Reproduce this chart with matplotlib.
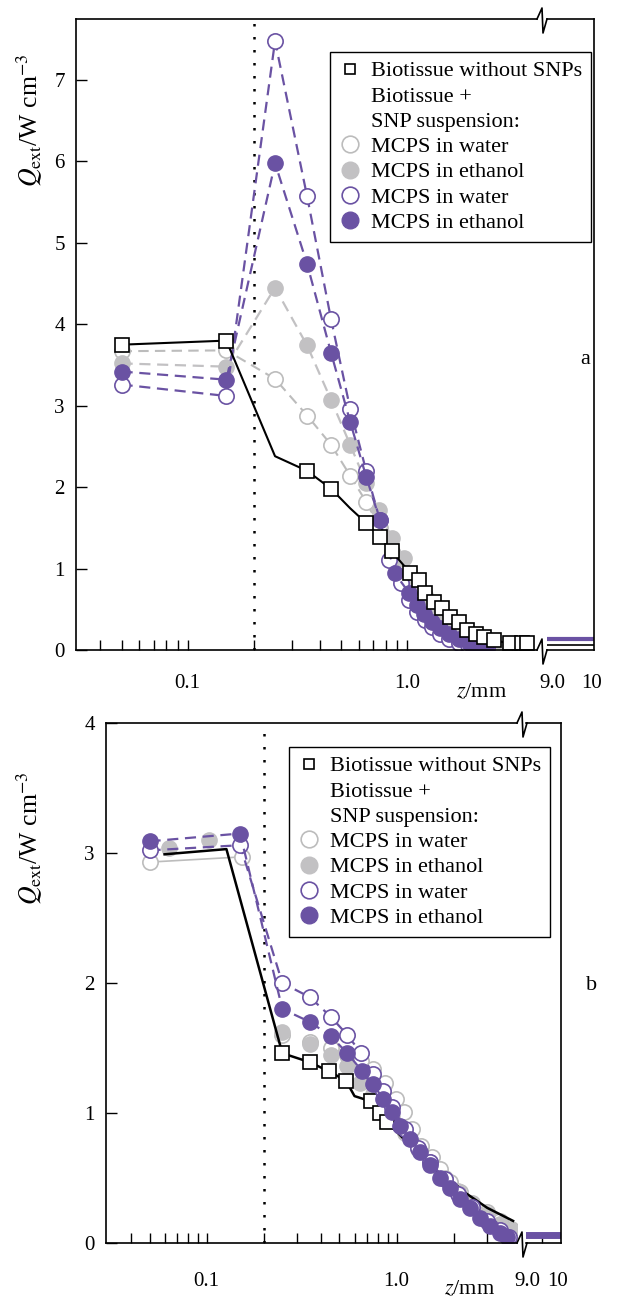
import matplotlib.pyplot as plt
from matplotlib.lines import Line2D
from matplotlib.ticker import FixedLocator, FixedFormatter, NullFormatter

plt.rcParams['font.family'] = ['Liberation Serif', 'DejaVu Serif']
plt.rcParams['mathtext.fontset'] = 'stix'

# ---- panel a: Q_ext (W cm^-3) vs depth z (mm) ----
za_black = [0.05, 0.15, 0.25, 0.35, 0.45, 0.55, 0.65, 0.75, 0.85, 1.03, 1.13, 1.21,
            1.32, 1.44, 1.57, 1.72, 1.88, 2.05, 2.24, 2.48, 2.95, 3.34, 3.52]
qa_black = [3.75, 3.80, 2.38, 2.20, 1.98, 1.74, 1.56, 1.39, 1.21, 0.95, 0.86, 0.70,
            0.59, 0.51, 0.41, 0.34, 0.25, 0.20, 0.16, 0.12, 0.08, 0.08, 0.08]
ma_black = [0, 1, 3, 4, 6, 7, 8, 9, 10, 11, 12, 13, 14, 15, 16, 17, 18, 19, 20, 21, 22]

za_gray_open = [0.05, 0.15, 0.25, 0.35, 0.45, 0.55, 0.65, 0.75, 0.85, 0.95, 1.05, 1.15,
                1.25, 1.35, 1.45, 1.6, 1.8, 2.0, 2.2, 2.4]
qa_gray_open = [3.67, 3.68, 3.33, 2.88, 2.52, 2.14, 1.82, 1.50, 1.20, 0.95, 0.74, 0.58,
                0.45, 0.35, 0.28, 0.20, 0.12, 0.08, 0.05, 0.03]

za_gray_fill = [0.05, 0.15, 0.25, 0.35, 0.45, 0.55, 0.65, 0.74, 0.85, 0.97, 1.1, 1.2,
                1.3, 1.4, 1.5, 1.65, 1.8, 2.0, 2.2, 2.4, 2.6]
qa_gray_fill = [3.52, 3.48, 4.45, 3.74, 3.07, 2.52, 2.05, 1.72, 1.38, 1.13, 0.85, 0.68,
                0.52, 0.42, 0.34, 0.25, 0.18, 0.12, 0.08, 0.05, 0.03]

za_pur_open = [0.05, 0.15, 0.25, 0.35, 0.45, 0.55, 0.65, 0.75, 0.83, 0.94, 1.02, 1.11,
               1.2, 1.3, 1.41, 1.55, 1.72, 1.9, 2.1, 2.3]
qa_pur_open = [3.26, 3.12, 7.48, 5.57, 4.06, 2.96, 2.20, 1.60, 1.10, 0.82, 0.62, 0.47,
               0.37, 0.28, 0.20, 0.14, 0.09, 0.06, 0.04, 0.03]

za_pur_fill = [0.05, 0.15, 0.25, 0.35, 0.45, 0.55, 0.65, 0.75, 0.88, 1.02, 1.11, 1.19,
               1.3, 1.41, 1.55, 1.72, 1.91, 2.12, 2.28]
qa_pur_fill = [3.42, 3.32, 5.98, 4.74, 3.65, 2.80, 2.13, 1.60, 0.94, 0.70, 0.55, 0.44,
               0.34, 0.27, 0.20, 0.13, 0.09, 0.05, 0.04]

z_tail = [8.8, 10.2]
qa_tail_pur = [0.13, 0.13]
qa_tail_black = [0.06, 0.06]

# ---- panel b ----
zb_black = [0.06, 0.127, 0.25, 0.35, 0.44, 0.54, 0.60, 0.73, 0.82, 0.89, 1.2, 1.6,
            2.0, 2.33, 3.0, 4.1]
qb_black = [2.99, 3.03, 1.46, 1.39, 1.32, 1.25, 1.13, 1.09, 1.00, 0.93, 0.74, 0.56,
            0.46, 0.38, 0.27, 0.17]
mb_black = [2, 3, 4, 5, 7, 8, 9]

zb_gray_open = [0.05, 0.153, 0.25, 0.35, 0.45, 0.55, 0.65, 0.75, 0.87, 0.99, 1.09, 1.21,
                1.35, 1.53, 1.69, 1.91, 2.15, 2.5, 3.0, 3.5, 4.0]
qb_gray_open = [2.93, 2.97, 1.60, 1.55, 1.50, 1.45, 1.40, 1.34, 1.23, 1.11, 1.01, 0.88,
                0.75, 0.66, 0.57, 0.47, 0.39, 0.31, 0.24, 0.17, 0.11]

zb_gray_fill = [0.063, 0.103, 0.25, 0.35, 0.45, 0.55, 0.64, 0.75, 0.85, 0.95, 1.1, 1.3,
                1.5, 1.8, 2.1, 2.5, 3.0, 3.5, 4.0]
qb_gray_fill = [3.04, 3.10, 1.62, 1.53, 1.45, 1.36, 1.23, 1.15, 1.05, 0.97, 0.85, 0.72,
                0.62, 0.50, 0.40, 0.30, 0.22, 0.15, 0.10]

zb_pur_open = [0.05, 0.15, 0.25, 0.35, 0.45, 0.55, 0.65, 0.75, 0.85, 0.95, 1.1, 1.3,
               1.5, 1.8, 2.1, 2.5, 3.0, 3.5, 3.9]
qb_pur_open = [3.02, 3.06, 2.00, 1.89, 1.74, 1.60, 1.46, 1.30, 1.17, 1.05, 0.88, 0.73,
               0.62, 0.49, 0.38, 0.28, 0.17, 0.10, 0.05]

zb_pur_fill = [0.05, 0.15, 0.25, 0.35, 0.45, 0.55, 0.66, 0.75, 0.85, 0.94, 1.04, 1.18,
               1.33, 1.5, 1.69, 1.91, 2.15, 2.43, 2.74, 3.09, 3.5, 3.8]
qb_pur_fill = [3.09, 3.15, 1.80, 1.70, 1.59, 1.46, 1.32, 1.22, 1.11, 1.01, 0.90, 0.80,
               0.70, 0.60, 0.50, 0.42, 0.34, 0.27, 0.19, 0.13, 0.08, 0.05]

qb_tail_pur = [0.06, 0.06]

legend_labels = ['Biotissue without SNPs', 'Biotissue +', 'SNP suspension:',
                 'MCPS in water', 'MCPS in ethanol', 'MCPS in water', 'MCPS in ethanol']

PURPLE = '#6a52a3'
GRAY_FILL = '#c2c1c3'
GRAY_EDGE = '#bcbcbc'
W, H = 624, 1299
MS = 11


def box(left, top, right, bottom):
    return [left / W, 1 - bottom / H, (right - left) / W, (bottom - top) / H]


def zigzag(fig, x, y):
    xs = [x, x + 5, x + 6, x + 10]
    ys = [y, y - 11, y + 14, y]
    fig.add_artist(Line2D([v / W for v in xs], [1 - v / H for v in ys],
                          transform=fig.transFigure, color='k', lw=1.2))


def setup_axes(fig, main_box, tail_box, xlim, tail_xlim, ymax, tail_minor, xpad):
    ax = fig.add_axes(box(*main_box))
    tx = fig.add_axes(box(*tail_box))
    ax.set_xscale('log')
    ax.set_xlim(*xlim)
    ax.set_ylim(0, ymax)
    tx.set_xlim(*tail_xlim)
    tx.set_ylim(0, ymax)
    ax.xaxis.set_major_locator(FixedLocator([0.1, 1.0]))
    ax.xaxis.set_major_formatter(FixedFormatter(['0.1', '1.0']))
    ax.xaxis.set_minor_locator(FixedLocator([0.04, 0.05, 0.06, 0.07, 0.08, 0.09, 0.2, 0.3,
                                             0.4, 0.5, 0.6, 0.7, 0.8, 0.9, 2, 3]))
    ax.xaxis.set_minor_formatter(NullFormatter())
    ax.set_yticks(range(0, int(ymax) + 1))
    ax.tick_params(axis='x', which='both', direction='in', length=7, width=1,
                   pad=xpad, labelsize=15)
    ax.tick_params(axis='y', direction='in', length=8, width=1, pad=8, labelsize=15)
    ax.spines['right'].set_visible(False)
    tx.spines['left'].set_visible(False)
    tx.set_xticks([9, 10])
    tx.set_xticklabels(['9.0', '10'])
    tx.set_xticks(tail_minor, minor=True)
    tx.tick_params(axis='x', which='major', direction='in', length=0, pad=xpad, labelsize=15)
    tx.tick_params(axis='x', which='minor', direction='in', length=7, width=1)
    tx.tick_params(axis='y', left=False, labelleft=False)
    for a in (ax, tx):
        for s in a.spines.values():
            s.set_linewidth(1.2)
    ax.axvline(0.2, color='k', ls=(0, (1, 4.2)), lw=1.8, zorder=1)
    return ax, tx


def legend(fig, x, y):
    handles = [
        Line2D([], [], ls='none', marker='s', ms=7, mfc='white', mec='k', mew=1.2),
        Line2D([], [], ls='none'),
        Line2D([], [], ls='none'),
        Line2D([], [], ls='none', marker='o', ms=12, mfc='white', mec=GRAY_EDGE, mew=1.2),
        Line2D([], [], ls='none', marker='o', ms=12, mfc=GRAY_FILL, mec=GRAY_FILL),
        Line2D([], [], ls='none', marker='o', ms=12, mfc='white', mec=PURPLE, mew=1.2),
        Line2D([], [], ls='none', marker='o', ms=12, mfc=PURPLE, mec=PURPLE),
    ]
    leg = fig.legend(handles, legend_labels, loc='upper left', bbox_to_anchor=(x / W, 1 - y / H),
                     fontsize=16, frameon=True, fancybox=False, edgecolor='k', framealpha=1,
                     handlelength=1.0, handletextpad=0.45, borderpad=0.4,
                     labelspacing=0.21, borderaxespad=0)
    leg.get_frame().set_linewidth(1.0)


fig = plt.figure(figsize=(W / 100, H / 100), dpi=100)
dash = (0, (5, 3))
ylabel = r'$Q_{\rm ext}$/W cm$^{-3}$'

# panel a
ax, tx = setup_axes(fig, (76, 19, 537, 650), (547, 19, 594, 650),
                    (0.031, 3.9), (8.85, 10.05), 7.75, [], 17)
ax.plot(za_gray_open, qa_gray_open, ls=dash, color=GRAY_EDGE, lw=1.5, marker='o', ms=MS,
        mfc='white', mec=GRAY_EDGE, mew=1.2)
ax.plot(za_gray_fill, qa_gray_fill, ls=dash, color=GRAY_FILL, lw=1.6, marker='o', ms=MS,
        mfc=GRAY_FILL, mec=GRAY_FILL)
ax.plot(za_pur_open, qa_pur_open, ls=dash, color=PURPLE, lw=1.6, marker='o', ms=MS,
        mfc='white', mec=PURPLE, mew=1.2)
ax.plot(za_pur_fill, qa_pur_fill, ls=dash, color=PURPLE, lw=1.6, marker='o', ms=MS,
        mfc=PURPLE, mec=PURPLE)
ax.plot(za_black, qa_black, color='k', lw=1.5, marker='s', ms=9.5, mfc='white', mec='k',
        mew=1.2, markevery=ma_black)
tx.plot(z_tail, qa_tail_black, color='k', lw=1.2)
tx.plot(z_tail, qa_tail_pur, color=PURPLE, lw=3)
zigzag(fig, 537, 19)
zigzag(fig, 537, 650)
legend(fig, 330, 52)
fig.text(30 / W, 1 - 120 / H, ylabel, rotation=90, ha='center', va='center', fontsize=18.5)
fig.text(482 / W, 1 - 693 / H, r'$z$/mm', ha='center', va='center', fontsize=16)
fig.text(585 / W, 1 - 360 / H, 'a', ha='center', va='center', fontsize=16)

# panel b
bx, btx = setup_axes(fig, (106, 723, 517, 1243), (526, 723, 561, 1243),
                     (0.0295, 4.3), (8.97, 10.1), 4, [9.5], 21)
bx.plot(zb_gray_open[:2], qb_gray_open[:2], color=GRAY_EDGE, lw=1.2)
bx.plot(zb_gray_open, qb_gray_open, ls='none', marker='o', ms=MS,
        mfc='white', mec=GRAY_EDGE, mew=1.2)
bx.plot(zb_gray_fill, qb_gray_fill, ls='none', marker='o', ms=MS,
        mfc=GRAY_FILL, mec=GRAY_FILL)
bx.plot(zb_black, qb_black, color='k', lw=1.8, marker='s', ms=9.5, mfc='white', mec='k',
        mew=1.2, markevery=mb_black)
bx.plot(zb_pur_open, qb_pur_open, ls=dash, color=PURPLE, lw=1.6, marker='o', ms=MS,
        mfc='white', mec=PURPLE, mew=1.2)
bx.plot(zb_pur_fill, qb_pur_fill, ls=dash, color=PURPLE, lw=1.6, marker='o', ms=MS,
        mfc=PURPLE, mec=PURPLE)
btx.plot(z_tail, qb_tail_pur, color=PURPLE, lw=5)
zigzag(fig, 517, 723)
zigzag(fig, 517, 1243)
legend(fig, 289, 747)
fig.text(30 / W, 1 - 838 / H, ylabel, rotation=90, ha='center', va='center', fontsize=18.5)
fig.text(470 / W, 1 - 1290 / H, r'$z$/mm', ha='center', va='center', fontsize=16)
fig.text(592 / W, 1 - 985 / H, 'b', ha='center', va='center', fontsize=16)

fig.savefig('out.png', dpi=100)
